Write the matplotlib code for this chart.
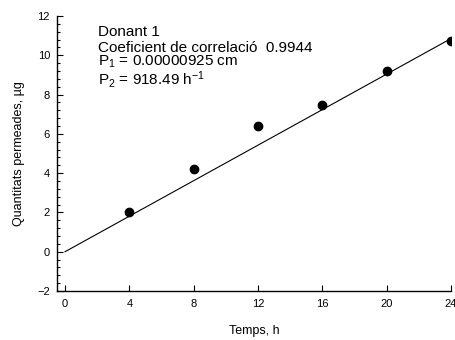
import matplotlib
matplotlib.use("Agg")
import matplotlib.pyplot as plt
from matplotlib.ticker import MultipleLocator

plt.rcParams['font.family'] = ['Liberation Sans', 'DejaVu Sans']
plt.rcParams['mathtext.fontset'] = 'custom'
plt.rcParams['mathtext.rm'] = 'Liberation Sans'
plt.rcParams['mathtext.it'] = 'Liberation Sans'
plt.rcParams['mathtext.default'] = 'regular'

temps = [4, 8, 12, 16, 20, 24]
quantitats = [2.0, 4.22, 6.41, 7.46, 9.22, 10.72]
fit_t = [0, 24]
fit_q = [0.0, 10.85]
x_ticks = [0, 4, 8, 12, 16, 20, 24]
y_ticks = [-2, 0, 2, 4, 6, 8, 10, 12]

fig = plt.figure(figsize=(4.56, 3.40), dpi=100)
ax = fig.add_axes([57/456, 1-291/340, (451-57)/456, (291-16)/340])

ax.plot(fit_t, fit_q, color='black', lw=0.8)
ax.plot(temps, quantitats, 'o', color='black', ms=6)

ax.set_xlim(-0.5, 24)
ax.set_ylim(-2, 12)
ax.set_xticks(x_ticks)
ax.set_yticks(y_ticks)
ax.yaxis.set_minor_locator(MultipleLocator(0.4))
ax.spines['top'].set_visible(False)
ax.spines['right'].set_visible(False)
ax.spines['left'].set_linewidth(1.0)
ax.spines['bottom'].set_linewidth(1.0)
ax.tick_params(axis='x', direction='in', length=4, width=0.8, labelsize=8, pad=6)
ax.tick_params(axis='y', which='major', direction='in', length=4, width=0.8, labelsize=8, pad=5)
ax.tick_params(axis='y', which='minor', direction='in', length=2.5, width=0.8)

ax.set_xlabel('Temps, h', fontsize=9, labelpad=11)
ax.set_ylabel('Quantitats permeades, µg', fontsize=9, labelpad=9)

tx = 98/456
fs = 11
fig.text(tx, 1-36.5/340, 'Donant 1', fontsize=fs, va='baseline')
fig.text(tx, 1-51.5/340, 'Coeficient de correlació  0.9944', fontsize=fs, va='baseline')
fig.text(tx, 1-66/340, r'P$_1$ = 0.00000925 cm', fontsize=fs, va='baseline')
fig.text(tx, 1-85/340, r'P$_2$ = 918.49 h$^{-1}$', fontsize=fs, va='baseline')

fig.savefig('out.png', dpi=100)
